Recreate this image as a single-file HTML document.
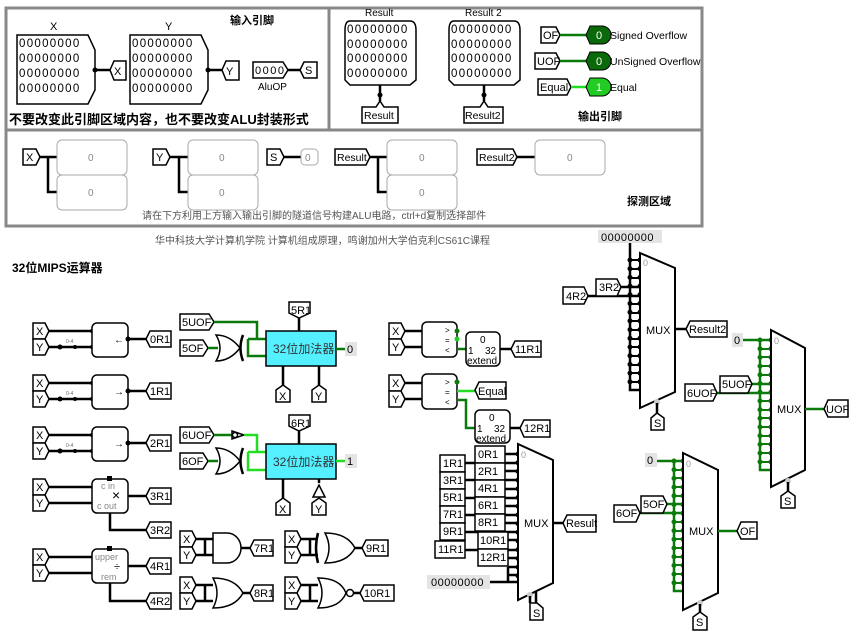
<!DOCTYPE html>
<html><head><meta charset="utf-8"><style>
html,body{margin:0;padding:0;background:#fff;}
svg{display:block;font-family:"Liberation Sans","Noto Sans CJK SC",sans-serif;}
.t{font-size:11px;fill:#000;}
.b{fill:#fff;stroke:#000;stroke-width:1.5;}
.w{stroke:#000;stroke-width:2.5;fill:none;}
.g{stroke:#0a7a0a;stroke-width:2.5;fill:none;}
.lg{stroke:#22dd22;stroke-width:2.5;fill:none;}
.d{font-size:11.5px;letter-spacing:1.3px;}
.p{fill:#fff;stroke:#aaa;stroke-width:1;}
.pt{font-size:10px;fill:#888;}
</style></head><body>
<svg width="865" height="637" viewBox="0 0 865 637">
<rect x="6" y="8" width="696" height="218" fill="none" stroke="#888" stroke-width="3"/>
<line x1="329" y1="8" x2="329" y2="130" stroke="#888" stroke-width="3"/>
<line x1="6" y1="130" x2="702" y2="130" stroke="#888" stroke-width="3"/>

<text x="50" y="30" class="t">X</text>
<path d="M17,35 H88 L95,50 V90 L88,104 H17 Z" class="b"/>
<text x="19" y="47" class="t d">00000000</text><text x="19" y="62" class="t d">00000000</text><text x="19" y="77" class="t d">00000000</text><text x="19" y="92" class="t d">00000000</text>
<path d="M95,70 H110" class="w"/><circle cx="95" cy="70" r="2.5"/>
<path d="M110,70 L114,61 H126 V80 H114 Z" class="b"/><text x="114" y="75" class="t">X</text>
<text x="165" y="30" class="t">Y</text>
<path d="M130,35 H201 L208,50 V90 L201,104 H130 Z" class="b"/>
<text x="132" y="47" class="t d">00000000</text><text x="132" y="62" class="t d">00000000</text><text x="132" y="77" class="t d">00000000</text><text x="132" y="92" class="t d">00000000</text>
<path d="M208,70 H222" class="w"/><circle cx="208" cy="70" r="2.5"/>
<path d="M222,70 L226,61 H239 V80 H226 Z" class="b"/><text x="226" y="75" class="t">Y</text>
<text x="230" y="24" font-size="11" font-weight="bold">输入引脚</text>
<path d="M253,62 H283 L288,70 L283,78 H253 Z" class="b"/><text x="255" y="74" class="t" letter-spacing="1.5">0000</text>
<path d="M288,70 H300" class="w"/>
<path d="M300,70 L304,62 H317 V78 H304 Z" class="b"/><text x="305" y="74" class="t">S</text>
<text x="258" y="90" font-size="10">AluOP</text>
<text x="9" y="124" font-size="13" font-weight="bold">不要改变此引脚区域内容，也不要改变ALU封装形式</text>

<text x="365" y="16" font-size="10">Result</text>
<path d="M350,21 H410 Q416,21 416,30 V80 L410,85 H350 L345,80 V30 Q345,21 350,21 Z" class="b"/>
<text x="347" y="33" class="t d">00000000</text><text x="347" y="48" class="t d">00000000</text><text x="347" y="62" class="t d">00000000</text><text x="347" y="77" class="t d">00000000</text>
<path d="M380,85 V101" class="w"/><circle cx="380" cy="95" r="2.5"/>
<path d="M362,107 H376 L380,101 L384,107 H398 V123 H362 Z" class="b"/><text x="364" y="119" font-size="10.5">Result</text>
<text x="465" y="16" font-size="10">Result 2</text>
<path d="M454,21 H514 Q520,21 520,30 V80 L514,85 H454 L449,80 V30 Q449,21 454,21 Z" class="b"/>
<text x="451" y="33" class="t d">00000000</text><text x="451" y="48" class="t d">00000000</text><text x="451" y="62" class="t d">00000000</text><text x="451" y="77" class="t d">00000000</text>
<path d="M484,85 V101" class="w"/><circle cx="484" cy="95" r="2.5"/>
<path d="M464,107 H480 L484,101 L488,107 H503 V123 H464 Z" class="b"/><text x="465" y="119" font-size="10.5">Result2</text>
<path d="M541,27 H556 L560,35 L556,43 H541 Z" class="b"/><text x="543" y="39" class="t">OF</text>
<path d="M560,35 H590" class="g"/>
<path d="M590,26 H602 A9,9 0 0 1 602,44 H590 L586,35 Z" fill="#0a6a0a" stroke="#000"/><text x="596" y="39" font-size="11" fill="#fff">0</text>
<text x="610" y="39" font-size="10.5">Signed Overflow</text>
<path d="M535,53 H556 L560,61 L556,69 H535 Z" class="b"/><text x="537" y="65" class="t">UOF</text>
<path d="M560,61 H590" class="g"/>
<path d="M590,52 H602 A9,9 0 0 1 602,70 H590 L586,61 Z" fill="#0a6a0a" stroke="#000"/><text x="596" y="65" font-size="11" fill="#fff">0</text>
<text x="610" y="65" font-size="10.5">UnSigned Overflow</text>
<path d="M538,79 H567 L571,87 L567,95 H538 Z" class="b"/><text x="540" y="91" class="t">Equal</text>
<path d="M571,87 H590" class="lg"/>
<path d="M590,78 H602 A9,9 0 0 1 602,96 H590 L586,87 Z" fill="#22cc22" stroke="#000"/><text x="596" y="91" font-size="11" fill="#fff">1</text>
<text x="610" y="91" font-size="10.5">Equal</text>
<text x="578" y="120" font-size="11" font-weight="bold">输出引脚</text>

<path d="M23,149 H36 L40,157 L36,165 H23 Z" class="b"/><text x="26" y="161" class="t">X</text>
<path d="M40,157 H57 M48,157 V192 H57" class="w"/>
<rect x="57" y="140" width="70" height="35" rx="5" class="p"/><rect x="57" y="175" width="70" height="35" rx="5" class="p"/>
<text x="88" y="161" class="pt">0</text><text x="88" y="196" class="pt">0</text>
<path d="M153,149 H166 L170,157 L166,165 H153 Z" class="b"/><text x="156" y="161" class="t">Y</text>
<path d="M170,157 H188 M179,157 V192 H188" class="w"/>
<rect x="188" y="140" width="70" height="35" rx="5" class="p"/><rect x="188" y="175" width="70" height="35" rx="5" class="p"/>
<text x="219" y="161" class="pt">0</text><text x="219" y="196" class="pt">0</text>
<path d="M267,149 H280 L284,157 L280,165 H267 Z" class="b"/><text x="270" y="161" class="t">S</text>
<path d="M284,157 H301" class="w"/><rect x="301" y="149" width="17" height="16" rx="4" class="p"/><text x="305" y="161" class="pt">0</text>
<path d="M335,149 H366 L370,157 L366,165 H335 Z" class="b"/><text x="337" y="161" font-size="10.5">Result</text>
<path d="M370,157 H387 M378,157 V192 H387" class="w"/>
<rect x="387" y="140" width="70" height="35" rx="5" class="p"/><rect x="387" y="175" width="70" height="35" rx="5" class="p"/>
<text x="419" y="161" class="pt">0</text><text x="419" y="196" class="pt">0</text>
<path d="M477,149 H513 L517,157 L513,165 H477 Z" class="b"/><text x="479" y="161" font-size="10.5">Result2</text>
<path d="M517,157 H535" class="w"/>
<rect x="535" y="140" width="70" height="35" rx="5" class="p"/><text x="567" y="161" class="pt">0</text>
<text x="627" y="205" font-size="11" font-weight="bold">探测区域</text>
<text x="142" y="219" font-size="10" fill="#555">请在下方利用上方输入输出引脚的隧道信号构建ALU电路，ctrl+d复制选择部件</text>
<text x="155" y="244" font-size="10" fill="#555">华中科技大学计算机学院 计算机组成原理，鸣谢加州大学伯克利CS61C课程</text>
<text x="12" y="272" font-size="12" font-weight="bold">32位MIPS运算器</text>

<g id="sh">
<path d="M33,323 H45 L49,331 L45,339 H33 Z" class="b"/><text x="36" y="335" class="t">X</text>
<path d="M33,339 H45 L49,347 L45,355 H33 Z" class="b"/><text x="36" y="351" class="t">Y</text>
<path d="M49,331 H92 M49,347 H92" class="w"/><circle cx="92" cy="331" r="2"/><circle cx="92" cy="347" r="2"/><circle cx="60" cy="347" r="2.5"/><circle cx="75" cy="347" r="2"/>
<text x="66" y="343" font-size="5" fill="#666">0-4</text>
<rect x="92" y="323" width="36" height="34" rx="5" class="b"/>
<path d="M128,339 H146" class="w"/><circle cx="128" cy="339" r="2.5"/>
</g>
<text x="114" y="343" font-size="10" font-weight="bold">←</text>
<path d="M146,339 L150,331 H171 V347 H150 Z" class="b"/><text x="150" y="343" class="t">0R1</text>
<use href="#sh" y="52"/>
<text x="114" y="395" font-size="10" font-weight="bold">→</text>
<path d="M146,391 L150,383 H171 V399 H150 Z" class="b"/><text x="150" y="395" class="t">1R1</text>
<use href="#sh" y="104"/>
<text x="114" y="447" font-size="10" font-weight="bold">→</text>
<path d="M146,443 L150,435 H171 V451 H150 Z" class="b"/><text x="150" y="447" class="t">2R1</text>
<path d="M33,479 H45 L49,487 L45,495 H33 Z" class="b"/><text x="36" y="491" class="t">X</text>
<path d="M33,495 H45 L49,503 L45,511 H33 Z" class="b"/><text x="36" y="507" class="t">Y</text>
<path d="M49,487 H92 M49,503 H92" class="w"/>
<rect x="92" y="479" width="36" height="34" rx="5" class="b"/><rect x="107" y="476" width="5" height="5"/>
<text x="101" y="489" font-size="9" fill="#888">c in</text><text x="97" y="509" font-size="9" fill="#888">c out</text>
<text x="112" y="500" font-size="14">×</text>
<path d="M128,496 H146 M110,513 V530 H146" class="w"/>
<path d="M146,496 L150,488 H171 V504 H150 Z" class="b"/><text x="150" y="500" class="t">3R1</text>
<path d="M146,530 L150,522 H171 V538 H150 Z" class="b"/><text x="150" y="534" class="t">3R2</text>
<path d="M33,549 H45 L49,557 L45,565 H33 Z" class="b"/><text x="36" y="561" class="t">X</text>
<path d="M33,565 H45 L49,573 L45,581 H33 Z" class="b"/><text x="36" y="577" class="t">Y</text>
<path d="M49,557 H92 M49,573 H92" class="w"/>
<rect x="92" y="549" width="36" height="34" rx="5" class="b"/><rect x="107" y="546" width="5" height="5"/>
<text x="95" y="560" font-size="9" fill="#888">upper</text><text x="101" y="580" font-size="9" fill="#888">rem</text>
<text x="114" y="570" font-size="11">÷</text>
<path d="M128,566 H146 M110,583 V601 H146" class="w"/>
<path d="M146,566 L150,558 H171 V574 H150 Z" class="b"/><text x="150" y="570" class="t">4R1</text>
<path d="M146,601 L150,593 H171 V609 H150 Z" class="b"/><text x="150" y="605" class="t">4R2</text>

<path d="M180,314 H209 L214,322 L209,330 H180 Z" class="b"/><text x="182" y="326" class="t">5UOF</text>
<path d="M180,340 H203 L208,348 L203,356 H180 Z" class="b"/><text x="182" y="352" class="t">5OF</text>
<path d="M214,322 H257 V339 H266 M248,339 H257 M248,339 V356 H266 M208,348 H218" class="g"/>
<path d="M216,335 Q230,335 240,348 Q230,361 216,361 Q224,348 216,335 Z" class="b"/>
<path d="M243,335 Q238,348 243,361" class="w"/>
<rect x="266" y="331" width="70" height="35" fill="#55f0ff" stroke="#000" stroke-width="1.5"/>
<text x="273" y="353" font-size="12" fill="#333">32位加法器</text>
<path d="M289,302 H310 V313 L299,318 L289,313 Z" class="b"/><text x="291" y="314" class="t">5R1</text>
<path d="M299,318 V331 M283,366 V385 M319,366 V385" class="w"/>
<path d="M276,390 L283,385 L290,390 V402 H276 Z" class="b"/><text x="279" y="400" class="t">X</text>
<path d="M312,390 L319,385 L326,390 V402 H312 Z" class="b"/><text x="315" y="400" class="t">Y</text>
<path d="M336,349 H346" class="g"/><rect x="345" y="342" width="12" height="14" fill="#e4e4e4"/><text x="347" y="353" class="t" fill="#0a7a0a">0</text>

<path d="M180,427 H209 L214,435 L209,443 H180 Z" class="b"/><text x="182" y="439" class="t">6UOF</text>
<path d="M180,453 H203 L208,461 L203,469 H180 Z" class="b"/><text x="182" y="465" class="t">6OF</text>
<path d="M214,435 H232" class="g"/><path d="M232,431 L244,435 L232,439 Z" class="b"/><circle cx="235" cy="435" r="2.5" class="b"/>
<path d="M244,435 H257 V452 H266 M248,452 H257 M248,452 V470 H266" class="lg"/><path d="M208,461 H218" class="g"/>
<path d="M216,448 Q230,448 240,461 Q230,474 216,474 Q224,461 216,448 Z" class="b"/>
<path d="M243,448 Q238,461 243,474" class="w"/>
<rect x="266" y="444" width="70" height="35" fill="#55f0ff" stroke="#000" stroke-width="1.5"/>
<text x="273" y="466" font-size="12" fill="#333">32位加法器</text>
<path d="M289,415 H310 V426 L299,431 L289,426 Z" class="b"/><text x="291" y="427" class="t">6R1</text>
<path d="M299,431 V444 M283,479 V498 M319,479 V483" class="w"/>
<path d="M313,497 L319,485 L325,497 Z" class="b"/>
<path d="M276,503 L283,498 L290,503 V515 H276 Z" class="b"/><text x="279" y="513" class="t">X</text>
<path d="M312,503 L319,498 L326,503 V515 H312 Z" class="b"/><text x="315" y="513" class="t">Y</text>
<path d="M336,461 H346" class="lg"/><rect x="345" y="454" width="12" height="14" fill="#e4e4e4"/><text x="347" y="465" class="t" fill="#22cc22">1</text>

<g id="xy"><path d="M180,531 H192 L196,539 L192,547 H180 Z" class="b"/><text x="183" y="543" class="t">X</text>
<path d="M180,547 H192 L196,555 L192,563 H180 Z" class="b"/><text x="183" y="559" class="t">Y</text>
<path d="M196,539 H213 M196,555 H213 M205,539 V555" class="w"/></g>
<path d="M213,533 H227 A14,15 0 0 1 227,563 H213 Z" class="b"/>
<path d="M241,548 H250" class="w"/><path d="M250,548 L254,540 H273 V556 H254 Z" class="b"/><text x="254" y="552" class="t">7R1</text>
<use href="#xy" y="46"/>
<path d="M213,578 Q235,578 243,593 Q235,608 213,608 Q221,593 213,578 Z" class="b"/>
<path d="M243,593 H250" class="w"/><path d="M250,593 L254,585 H273 V601 H254 Z" class="b"/><text x="254" y="597" class="t">8R1</text>
<use href="#xy" x="105"/>
<path d="M318,533 Q314,548 318,563" class="w"/>
<path d="M325,533 Q347,533 355,548 Q347,563 325,563 Q333,548 325,533 Z" class="b"/>
<path d="M355,548 H362" class="w"/><path d="M362,548 L366,540 H388 V556 H366 Z" class="b"/><text x="366" y="552" class="t">9R1</text>
<use href="#xy" x="105" y="46"/>
<path d="M318,578 Q340,578 346,593 Q340,608 318,608 Q326,593 318,578 Z" class="b"/><circle cx="350" cy="593" r="3.5" class="b"/>
<path d="M354,593 H360" class="w"/><path d="M360,593 L364,585 H394 V601 H364 Z" class="b"/><text x="364" y="597" class="t">10R1</text>

<path d="M389,323 H401 L405,331 L401,339 H389 Z" class="b"/><text x="392" y="335" class="t">X</text>
<path d="M389,339 H401 L405,347 L401,355 H389 Z" class="b"/><text x="392" y="351" class="t">Y</text>
<path d="M405,331 H422 M405,347 H422" class="w"/>
<rect x="422" y="322" width="35" height="35" rx="5" class="b"/>
<text x="445" y="333" font-size="8">&gt;</text><text x="445" y="343" font-size="8">=</text><text x="445" y="353" font-size="8">&lt;</text>
<circle cx="457" cy="331" r="2.5" fill="#0a7a0a"/><circle cx="457" cy="339" r="2.5" fill="#22cc22"/>
<path d="M457,349 H466" class="g"/>
<rect x="466" y="332" width="34" height="34" rx="5" class="b"/>
<text x="480" y="343" font-size="10">0</text><text x="468" y="354" font-size="10">1</text><text x="485" y="354" font-size="10">32</text><text x="467" y="364" font-size="10">extend</text>
<path d="M500,349 H511" class="w"/><path d="M511,349 L515,341 H541 V357 H515 Z" class="b"/><text x="515" y="353" class="t">11R1</text>

<path d="M389,375 H401 L405,383 L401,391 H389 Z" class="b"/><text x="392" y="387" class="t">X</text>
<path d="M389,391 H401 L405,399 L401,407 H389 Z" class="b"/><text x="392" y="403" class="t">Y</text>
<path d="M405,383 H422 M405,399 H422" class="w"/>
<rect x="422" y="374" width="35" height="35" rx="5" class="b"/>
<text x="445" y="385" font-size="8">&gt;</text><text x="445" y="395" font-size="8">=</text><text x="445" y="405" font-size="8">&lt;</text>
<circle cx="457" cy="382" r="2.5" fill="#0a7a0a"/>
<path d="M457,391 H475" class="lg"/><path d="M475,390 L479,382 H506 V399 H479 Z" class="b"/><text x="478" y="395" class="t">Equal</text>
<path d="M457,400 H466 V428 H475" class="g"/>
<rect x="475" y="410" width="35" height="33" rx="5" class="b"/>
<text x="489" y="421" font-size="10">0</text><text x="477" y="432" font-size="10">1</text><text x="494" y="432" font-size="10">32</text><text x="476" y="442" font-size="10">extend</text>
<path d="M510,428 H520" class="w"/><path d="M520,428 L524,420 H550 V437 H524 Z" class="b"/><text x="524" y="432" class="t">12R1</text>

<path d="M505,454 H518 M505,471 H518 M505,489 H518 M505,506 H518 M505,523 H518 M508,540 H518 M508,558 H518 M465,463 H518 M465,480 H518 M465,498 H518 M465,515 H518 M465,532 H518 M465,550 H518 M490,582 H518 M508,575 H518 M508,567 H518 M508,567 V582" class="w"/>
<line x1="518" y1="454" x2="518" y2="584" stroke="#000" stroke-width="5" stroke-linecap="round" stroke-dasharray="0 8.7"/>
<path d="M518,444 L553,460 V583 L518,600 Z" fill="#fff" stroke="#000" stroke-width="2"/>
<text x="521" y="458" font-size="9" fill="#999">0</text><text x="524" y="527" class="t">MUX</text>
<circle cx="530" cy="595" r="3" fill="#ccc"/><path d="M530,596 V603 M536,592 V603" class="w"/>
<path d="M530,603 L537,603 L543,608 V620 H530 Z" class="b"/><text x="533" y="617" class="t">S</text>
<path d="M553,523 H563" class="w"/><path d="M563,523 L567,515 H596 V532 H567 Z" class="b"/><text x="566" y="527" class="t">Result</text>
<rect x="427" y="575" width="63" height="14" fill="#e4e4e4"/><text x="431" y="586" class="t" letter-spacing="0.5">00000000</text>
<g class="t">
<rect x="475" y="446" width="30" height="17" class="b"/><text x="478" y="458">0R1</text>
<rect x="475" y="463" width="30" height="17" class="b"/><text x="478" y="475">2R1</text>
<rect x="475" y="480" width="30" height="17" class="b"/><text x="478" y="492">4R1</text>
<rect x="475" y="497" width="30" height="17" class="b"/><text x="478" y="509">6R1</text>
<rect x="475" y="514" width="30" height="17" class="b"/><text x="478" y="526">8R1</text>
<rect x="478" y="532" width="30" height="17" class="b"/><text x="480" y="544">10R1</text>
<rect x="478" y="549" width="30" height="17" class="b"/><text x="480" y="561">12R1</text>
<rect x="440" y="455" width="25" height="17" class="b"/><text x="443" y="467">1R1</text>
<rect x="440" y="472" width="25" height="17" class="b"/><text x="443" y="484">3R1</text>
<rect x="440" y="489" width="25" height="17" class="b"/><text x="443" y="501">5R1</text>
<rect x="440" y="506" width="25" height="17" class="b"/><text x="443" y="518">7R1</text>
<rect x="440" y="523" width="25" height="17" class="b"/><text x="443" y="535">9R1</text>
<rect x="435" y="541" width="30" height="17" class="b"/><text x="438" y="553">11R1</text>
</g>

<rect x="598" y="230" width="64" height="13" fill="#e4e4e4"/><text x="601" y="241" class="t" letter-spacing="0.5">00000000</text>
<path d="M630,243 V390 H640 M621,287 H640 M588,296 H640" class="w"/>
<line x1="630" y1="260" x2="630" y2="390" stroke="#000" stroke-width="5" stroke-linecap="round" stroke-dasharray="0 8.7"/>
<line x1="640" y1="260" x2="640" y2="390" stroke="#000" stroke-width="5" stroke-linecap="round" stroke-dasharray="0 8.7"/>
<path d="M630,260 H640 M630,269 H640 M630,278 H640 M630,304 H640 M630,313 H640 M630,321 H640 M630,330 H640 M630,339 H640 M630,347 H640 M630,356 H640 M630,365 H640 M630,373 H640 M630,382 H640" stroke="#000" stroke-width="2"/>
<path d="M640,253 L675,268 V392 L640,408 Z" fill="#fff" stroke="#000" stroke-width="2"/>
<text x="643" y="266" font-size="9" fill="#999">0</text><text x="646" y="334" class="t">MUX</text>
<path d="M596,279 H617 L621,287 L617,296 H596 Z" class="b"/><text x="599" y="291" class="t">3R2</text>
<path d="M563,287 H584 L588,296 L584,304 H563 Z" class="b"/><text x="566" y="300" class="t">4R2</text>
<circle cx="657" cy="402" r="3" fill="#ccc"/><path d="M657,403 V413" class="w"/>
<path d="M651,418 L657,413 L664,418 V430 H651 Z" class="b"/><text x="654" y="427" class="t">S</text>
<path d="M675,329 H686" class="w"/><path d="M686,329 L690,321 H727 V337 H690 Z" class="b"/><text x="689" y="333" class="t">Result2</text>

<rect x="732" y="333" width="11" height="14" fill="#e4e4e4"/><text x="734" y="344" class="t" fill="#0a7a0a">0</text>
<path d="M743,340 H771 M760,340 V470 H771 M752,384 H771 M717,393 H771" class="g"/>
<line x1="760" y1="340" x2="760" y2="470" stroke="#0a7a0a" stroke-width="5" stroke-linecap="round" stroke-dasharray="0 8.7"/>
<line x1="771" y1="340" x2="771" y2="470" stroke="#0a7a0a" stroke-width="5" stroke-linecap="round" stroke-dasharray="0 8.7"/>
<path d="M760,349 H771 M760,357 H771 M760,366 H771 M760,375 H771 M760,401 H771 M760,410 H771 M760,418 H771 M760,427 H771 M760,436 H771 M760,444 H771 M760,453 H771 M760,462 H771" stroke="#0a7a0a" stroke-width="2"/>
<path d="M771,330 L805,348 V470 L771,487 Z" fill="#fff" stroke="#000" stroke-width="2"/>
<text x="774" y="344" font-size="9" fill="#999">0</text><text x="777" y="413" class="t">MUX</text>
<path d="M720,376 H748 L752,384 L748,393 H720 Z" class="b"/><text x="722" y="388" class="t">5UOF</text>
<path d="M685,384 H713 L717,393 L713,401 H685 Z" class="b"/><text x="687" y="397" class="t">6UOF</text>
<path d="M805,409 H824" class="g"/><path d="M824,409 L828,400 H848 V417 H828 Z" class="b"/><text x="826" y="413" class="t">UOF</text>
<circle cx="788" cy="481" r="3" fill="#ccc"/><path d="M788,482 V491" class="w"/>
<path d="M781,496 L788,491 L795,496 V508 H781 Z" class="b"/><text x="784" y="505" class="t">S</text>

<rect x="645" y="453" width="12" height="14" fill="#e4e4e4"/><text x="647" y="464" class="t" fill="#0a7a0a">0</text>
<path d="M657,461 H683 M674,461 V591 H683 M667,504 H683 M640,513 H683" class="g"/>
<line x1="674" y1="461" x2="674" y2="591" stroke="#0a7a0a" stroke-width="5" stroke-linecap="round" stroke-dasharray="0 8.7"/>
<line x1="683" y1="461" x2="683" y2="591" stroke="#0a7a0a" stroke-width="5" stroke-linecap="round" stroke-dasharray="0 8.7"/>
<path d="M674,470 H683 M674,478 H683 M674,487 H683 M674,496 H683 M674,522 H683 M674,531 H683 M674,539 H683 M674,548 H683 M674,557 H683 M674,565 H683 M674,574 H683 M674,583 H683" stroke="#0a7a0a" stroke-width="2"/>
<path d="M683,453 L718,470 V593 L683,610 Z" fill="#fff" stroke="#000" stroke-width="2"/>
<text x="686" y="467" font-size="9" fill="#999">0</text><text x="689" y="535" class="t">MUX</text>
<path d="M641,496 H663 L667,504 L663,513 H641 Z" class="b"/><text x="643" y="508" class="t">5OF</text>
<path d="M614,505 H636 L640,513 L636,522 H614 Z" class="b"/><text x="616" y="517" class="t">6OF</text>
<path d="M718,531 H737" class="g"/><path d="M737,531 L741,522 H757 V539 H741 Z" class="b"/><text x="740" y="535" class="t">OF</text>
<circle cx="700" cy="603" r="3" fill="#ccc"/><path d="M700,604 V612" class="w"/>
<path d="M693,617 L700,612 L707,617 V630 H693 Z" class="b"/><text x="696" y="626" class="t">S</text>
</svg>
</body></html>
